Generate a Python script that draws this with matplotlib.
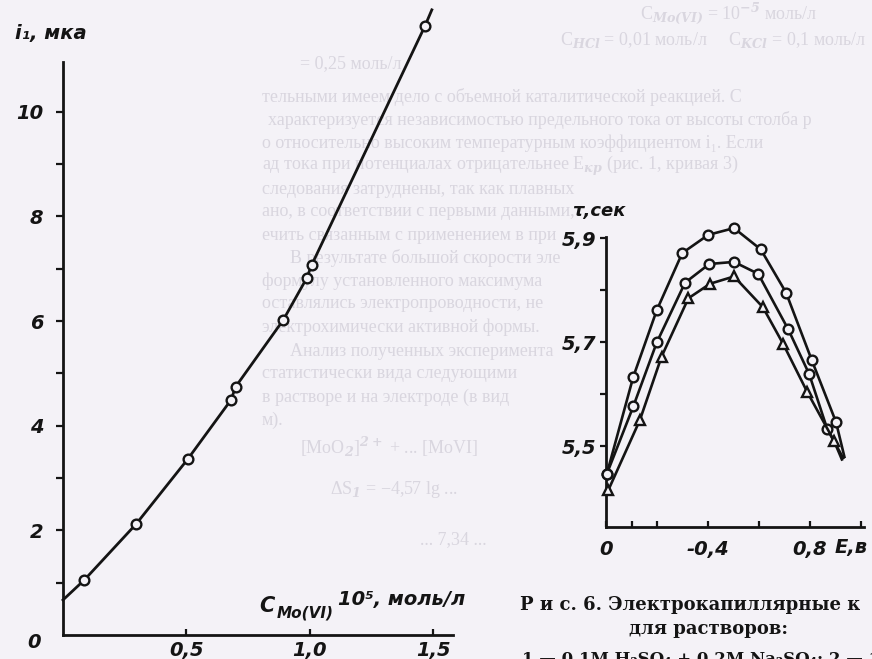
import matplotlib
matplotlib.use("Agg")
import matplotlib.pyplot as plt

W, H = 872, 659

# limiting current vs Mo(VI) concentration
conc = [0.086, 0.296, 0.505, 0.680, 0.700, 0.892, 0.987, 1.007, 1.466]
current = [1.05, 2.12, 3.36, 4.49, 4.75, 6.02, 6.82, 7.07, 11.64]
line_conc = [0.0] + conc + [1.494]
line_current = [0.67] + current + [11.95]

# electrocapillary curves: drop time vs potential (last point = end of line)
e_1 = [0.003, 0.107, 0.199, 0.299, 0.401, 0.502, 0.607, 0.706, 0.807, 0.902, 0.935]
tau_1 = [5.447, 5.634, 5.762, 5.872, 5.907, 5.920, 5.879, 5.796, 5.666, 5.547, 5.480]
e_2 = [0.003, 0.107, 0.199, 0.310, 0.405, 0.502, 0.597, 0.715, 0.797, 0.868, 0.930]
tau_2 = [5.447, 5.577, 5.700, 5.815, 5.851, 5.855, 5.832, 5.725, 5.639, 5.533, 5.478]
e_3 = [0.009, 0.133, 0.218, 0.323, 0.408, 0.502, 0.615, 0.695, 0.789, 0.894, 0.925]
tau_3 = [5.416, 5.551, 5.673, 5.785, 5.813, 5.827, 5.768, 5.697, 5.605, 5.511, 5.475]

left_yticks = [2, 4, 6, 8, 10]
left_xticks = [0.5, 1.0, 1.5]
left_xlabels = ["0,5", "1,0", "1,5"]
right_yticks = [5.5, 5.7, 5.9]
right_ylabels = ["5,5", "5,7", "5,9"]
right_xticks = [0.0, 0.4, 0.8]
right_xlabels = ["0", "-0,4", "0,8"]

# page text printed underneath the figures
page_lines = [
    (640, 14, "C$_{Mo(VI)}$ = 10$^{-5}$ моль/л"),
    (560, 40, "C$_{HCl}$ = 0,01 моль/л     C$_{KCl}$ = 0,1 моль/л"),
    (300, 64, "= 0,25 моль/л"),
    (262, 97, "тельными имеем дело с объемной каталитической реакцией. С"),
    (268, 120, "характеризуется независимостью предельного тока от высоты столба р"),
    (262, 143, "о относительно высоким температурным коэффициентом i₁. Если"),
    (262, 166, "ад тока при потенциалах отрицательнее E$_{кр}$ (рис. 1, кривая 3)"),
    (262, 189, "следования затруднены, так как плавных"),
    (262, 212, "ано, в соответствии с первыми данными,"),
    (262, 235, "ечить связанным с применением в при"),
    (290, 258, "В результате большой скорости эле"),
    (262, 281, "формулу установленного максимума"),
    (262, 304, "оставлялись электропроводности, не"),
    (262, 327, "электрохимически активной формы."),
    (290, 351, "Анализ полученных эксперимента"),
    (262, 374, "статистически вида следующими"),
    (262, 397, "в растворе и на электроде (в вид"),
    (262, 420, "м)."),
    (300, 447, "[MoO$_2$]$^{2+}$ + ... [MoVI]"),
    (330, 490, "ΔS$_1$ = −4,57 lg ..."),
    (420, 540, "... 7,34 ..."),
]

narrow = ["Liberation Sans Narrow", "DejaVu Sans"]
serif = ["DejaVu Serif", "Liberation Serif"]
plt.rcParams["font.family"] = narrow
plt.rcParams["font.style"] = "italic"
plt.rcParams["font.weight"] = "bold"
plt.rcParams["mathtext.fontset"] = "dejavuserif"

ink = "#141414"
paper = "#f4f2f7"

fig = plt.figure(figsize=(W / 100, H / 100), dpi=100, facecolor=paper)


def fx(x):
    return x / W


def fy(y):
    return 1 - y / H


for x, y, s in page_lines:
    fig.text(fx(x), fy(y), s, fontsize=13, color="#d9d6df", family="Liberation Serif",
             style="normal", weight="normal", va="center", ha="left", zorder=-5)

# left chart
ax1 = fig.add_axes([fx(63), fy(635), 395 / W, 633 / H])
ax1.patch.set_alpha(0)
ax1.plot(line_conc, line_current, color=ink, lw=2.0, zorder=2, clip_on=False)
ax1.plot(conc, current, "o", ms=7, mfc=paper, mec=ink, mew=1.7, zorder=3, clip_on=False)
ax1.set_xlim(0, 1.6)
ax1.set_ylim(0, 12.1)
for s in ["top", "right"]:
    ax1.spines[s].set_visible(False)
ax1.spines["left"].set_bounds(0, 10.95)
ax1.spines["bottom"].set_bounds(0, 1.58)
for s in ["left", "bottom"]:
    ax1.spines[s].set_linewidth(2.0)
    ax1.spines[s].set_color(ink)
ax1.set_yticks(left_yticks)
ax1.set_yticklabels([str(v) for v in left_yticks])
ax1.set_yticks([1, 3, 5, 7, 9], minor=True)
ax1.set_xticks(left_xticks)
ax1.set_xticklabels(left_xlabels)
ax1.tick_params(axis="y", which="both", direction="out", length=5, width=1.6,
                color=ink, labelsize=14, pad=9, labelcolor=ink)
ax1.tick_params(axis="x", direction="in", length=4, width=1.6, color=ink,
                labelsize=14, pad=4, labelcolor=ink)
fig.text(fx(27), fy(643), "0", fontsize=14, color=ink, va="center", ha="left")
fig.text(fx(15), fy(33), "i₁, мка", fontsize=14, color=ink, va="center", ha="left")
fig.text(fx(259), fy(606), "C", fontsize=15, color=ink, va="center", ha="left")
fig.text(fx(277), fy(613), "Mo(VI)", fontsize=11, color=ink, va="center", ha="left")
fig.text(fx(338), fy(600), "10⁵, моль/л", fontsize=14, color=ink, va="center", ha="left")

# right chart
ax2 = fig.add_axes([fx(606), fy(527.1), 1.02 * 255 / W, (527.1 - 222.9) / H])
ax2.patch.set_alpha(0)
tail = slice(0, -1)
ax2.plot(e_1, tau_1, "-o", color=ink, lw=1.9, ms=7, mfc=paper, mec=ink, mew=1.7,
         markevery=tail, clip_on=False, zorder=3)
ax2.plot(e_2, tau_2, "-o", color=ink, lw=1.9, ms=7, mfc=paper, mec=ink, mew=1.7,
         markevery=tail, clip_on=False, zorder=3)
ax2.plot(e_3, tau_3, "-^", color=ink, lw=1.9, ms=7.5, mfc=paper, mec=ink, mew=1.7,
         markevery=tail, clip_on=False, zorder=3)
ax2.set_xlim(0, 1.02)
ax2.set_ylim(5.345, 5.93)
for s in ["top", "right"]:
    ax2.spines[s].set_visible(False)
ax2.spines["left"].set_bounds(5.345, 5.903)
ax2.spines["bottom"].set_bounds(0, 1.01)
for s in ["left", "bottom"]:
    ax2.spines[s].set_linewidth(2.0)
    ax2.spines[s].set_color(ink)
ax2.set_yticks(right_yticks)
ax2.set_yticklabels(right_ylabels)
ax2.set_yticks([5.6, 5.8], minor=True)
ax2.set_xticks(right_xticks)
ax2.set_xticklabels(right_xlabels)
ax2.set_xticks([0.1, 0.2, 0.6, 1.0], minor=True)
ax2.tick_params(axis="y", which="both", direction="out", length=4, width=1.6,
                color=ink, labelsize=14, pad=3, labelcolor=ink)
ax2.tick_params(axis="x", which="both", direction="in", length=4, width=1.6,
                color=ink, labelsize=14, pad=9, labelcolor=ink)
fig.text(fx(572), fy(211), "τ,сек", fontsize=13, color=ink, va="center", ha="left")
fig.text(fx(851), fy(547), "E,в", fontsize=14, color=ink, va="center", ha="center")

# figure caption
cap = dict(family=serif, style="normal", weight="bold", color=ink)
fig.text(fx(520), fy(605), "Р и с. 6. Электрокапиллярные к", fontsize=13,
         va="center", ha="left", **cap)
fig.text(fx(708), fy(629), "для растворов:", fontsize=13, va="center", ha="center", **cap)
fig.text(fx(522), fy(650), "1 — 0,1M H₂SO₄ + 0,2M Na₂SO₄; 2 — 10⁻³", fontsize=12,
         va="top", ha="left", **cap)

fig.savefig("out.png", dpi=100, facecolor=paper)
